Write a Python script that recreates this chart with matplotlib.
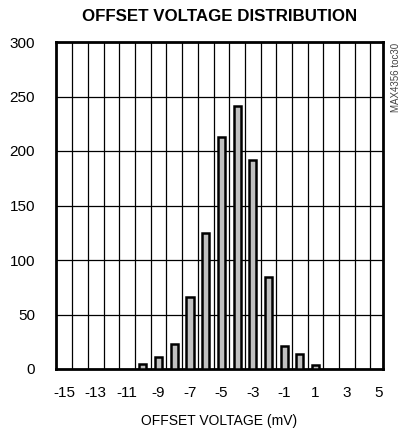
import numpy as np
import matplotlib
matplotlib.use('Agg')
import matplotlib.pyplot as plt

plt.rcParams['font.family'] = ['Liberation Sans', 'DejaVu Sans']
plt.rcParams['axes.unicode_minus'] = False

# данные гистограммы (mV -> количество)
offset_mv = [-10, -9, -8, -7, -6, -5, -4, -3, -2, -1, 0, 1]
counts = [5, 11, 23, 66, 125, 213, 241, 192, 84, 21, 14, 4]
x_ticks = [-15, -13, -11, -9, -7, -5, -3, -1, 1, 3, 5]
y_ticks = [0, 50, 100, 150, 200, 250, 300]

fig = plt.figure(figsize=(4.09, 4.32), dpi=100)
ax = fig.add_axes([56 / 409, 1 - 369 / 432, 327 / 409, 327 / 432])

# сетка: вертикальные линии на полуцелых значениях
for gx in np.arange(-14.5, 5, 1.0):
    ax.axvline(gx, color='black', lw=0.9, zorder=1)
for gy in y_ticks[1:-1]:
    ax.axhline(gy, color='black', lw=0.9, zorder=1)

ax.bar(offset_mv, counts, width=0.45, color='#c0c0c0', edgecolor='black',
       linewidth=1.8, zorder=3)

ax.set_xlim(-15.54, 5.3)
ax.set_ylim(0, 300)
ax.set_xticks(x_ticks)
ax.set_yticks(y_ticks)
ax.tick_params(length=0, labelsize=11, pad=15)
ax.tick_params(axis='x', pad=12)
for s in ax.spines.values():
    s.set_linewidth(2)

ax.set_xlabel('OFFSET VOLTAGE (mV)', fontsize=10, labelpad=10)
ax.set_title('OFFSET VOLTAGE DISTRIBUTION', fontsize=12.2, fontweight='bold', pad=15)

fig.text(396 / 409, 1 - 43 / 432, 'MAX4356 toc30', rotation=90, fontsize=7,
         ha='center', va='top', color='#444444')

plt.savefig('out.png', dpi=100)
